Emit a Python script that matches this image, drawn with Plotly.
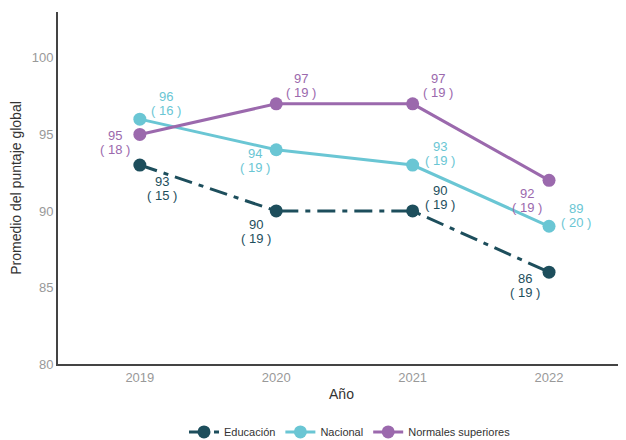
import plotly.graph_objects as go

years = [2019, 2020, 2021, 2022]
educacion = [93, 90, 90, 86]
educacion_n = [15, 19, 19, 19]
nacional = [96, 94, 93, 89]
nacional_n = [16, 19, 19, 20]
normales = [95, 97, 97, 92]
normales_n = [18, 19, 19, 19]

c_edu = "#1d4e5c"
c_nac = "#6ac6d4"
c_nor = "#9b69ad"

# label offsets (px) for each point: (dx, dy)
off_edu = [(22, -23), (-20, -21), (27, 13), (-24, -13)]
off_nac = [(26, 16), (-21, -11), (27, 12), (27, 11)]
off_nor = [(-25, -8), (25, 18), (25, 18), (-22, -20)]

fig = go.Figure()
series = [
    ("Educación", educacion, educacion_n, c_edu, "18px,7px,5px,7px", off_edu),
    ("Nacional", nacional, nacional_n, c_nac, "solid", off_nac),
    ("Normales superiores", normales, normales_n, c_nor, "solid", off_nor),
]
for name, vals, ns, col, dash, offs in series:
    fig.add_trace(go.Scatter(
        x=years, y=vals, name=name, mode="lines+markers",
        line=dict(color=col, width=3, dash=dash),
        marker=dict(color=col, size=13),
    ))

annotations = []
for name, vals, ns, col, dash, offs in series:
    for x, v, n, (dx, dy) in zip(years, vals, ns, offs):
        annotations.append(dict(x=x, y=v, text=str(v), showarrow=False,
                                xshift=dx, yshift=dy + 7,
                                font=dict(size=13, color=col, family="Liberation Sans, Arial")))
        annotations.append(dict(x=x, y=v, text=f"( {n} )", showarrow=False,
                                xshift=dx, yshift=dy - 7,
                                font=dict(size=13, color=col, family="Liberation Sans, Arial")))

fig.update_layout(
    width=626, height=440,
    margin=dict(l=50, r=9, t=4, b=84, autoexpand=False),
    plot_bgcolor="white", paper_bgcolor="white",
    font=dict(family="Liberation Sans, Arial", size=13, color="#333"),
    annotations=annotations,
    showlegend=True,
    legend=dict(orientation="h", x=0.515, xanchor="center", y=-0.193, yanchor="middle",
                font=dict(size=11, color="#333"), itemwidth=30),
    xaxis=dict(range=[2018.4, 2022.557], tickvals=years, ticktext=[str(y) for y in years],
               showgrid=False, zeroline=False, showline=True, linecolor="#444", linewidth=2,
               ticks="", tickfont=dict(size=13, color="#999"), automargin=False,
               title=dict(text="Año", font=dict(size=14, color="#333"), standoff=6)),
    yaxis=dict(range=[80, 103], tickvals=[80, 85, 90, 95, 100],
               showgrid=False, zeroline=False, showline=True, linecolor="#444", linewidth=2,
               ticks="", tickfont=dict(size=13, color="#999"), automargin=False,
               title=dict(text="Promedio del puntaje global", font=dict(size=14, color="#333"), standoff=12)),
)

fig.write_html("out.html")
